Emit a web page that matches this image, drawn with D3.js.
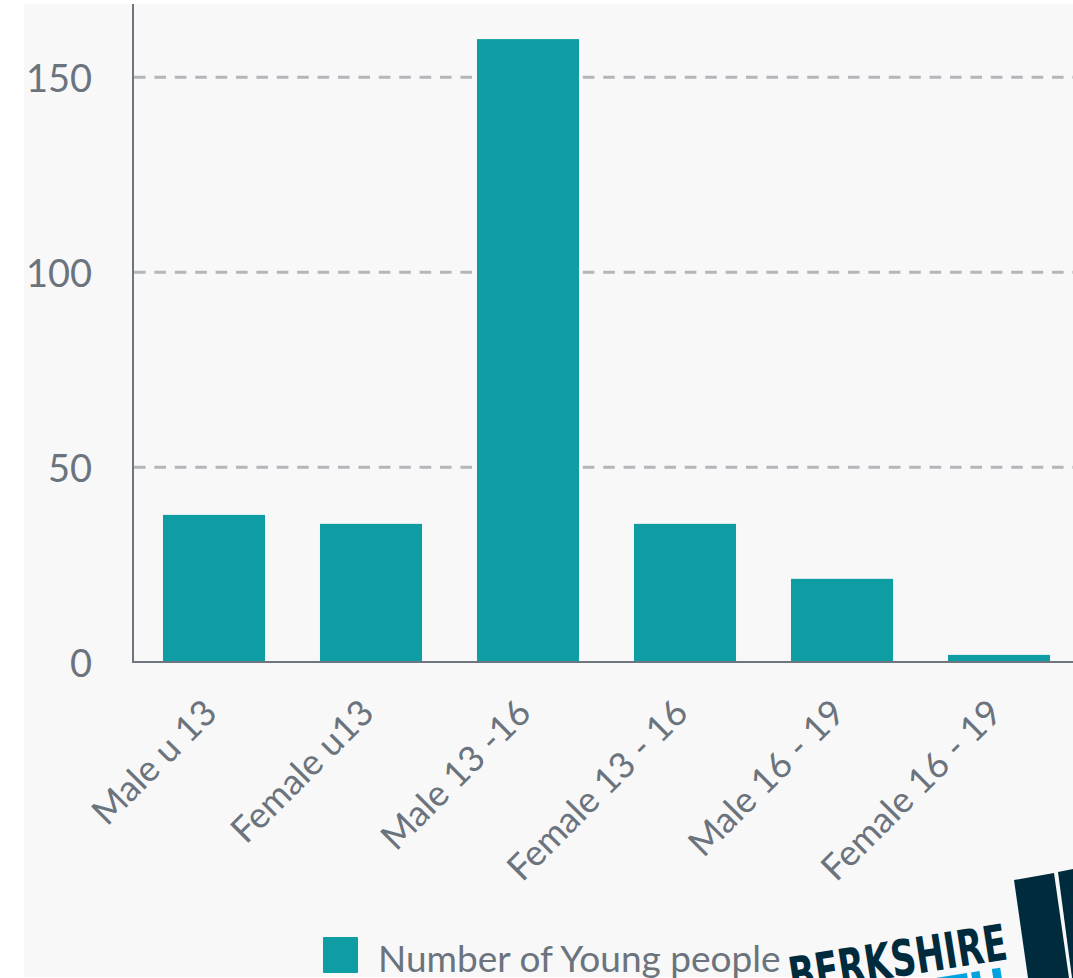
<!DOCTYPE html>
<html>
<head>
<meta charset="utf-8">
<script src="https://cdn.jsdelivr.net/npm/d3@7"></script>
<style>
  html, body { margin: 0; padding: 0; background: #ffffff; }
  svg { display: block; }
</style>
</head>
<body>
<svg id="chart" width="1073" height="978"></svg>
<script>
// ---- data ----
const categories = ["Male u 13", "Female u13", "Male 13 -16", "Female 13 - 16", "Male 16 - 19", "Female 16 - 19"];
const values = [37.8, 35.5, 159.8, 35.5, 21.4, 1.9];
const yTicks = [0, 50, 100, 150];
const seriesName = "Number of Young people";

// ---- styles ----
const barColor = "#0f9da4";
const axisColor = "#6d7580";
const gridColor = "#b3b7bb";
const textColor = "#6b737d";

const svg = d3.select("#chart");

// background panel
svg.append("rect").attr("x", 24).attr("y", 4).attr("width", 1049).attr("height", 973).attr("fill", "#f8f8f8");

const x = d3.scaleBand().domain(categories).range([135.5, 1077.5]).paddingInner(0.35).paddingOuter(0.175);
const y = d3.scaleLinear().domain([0, 168.8]).range([662.3, 4]);

// gridlines
const grid = svg.append("g");
grid.selectAll("line").data(yTicks.filter(d => d > 0)).join("line")
  .attr("x1", 134).attr("x2", 1073)
  .attr("y1", d => y(d)).attr("y2", d => y(d))
  .attr("stroke", gridColor).attr("stroke-width", 3)
  .attr("stroke-dasharray", "11.6,8.8");

// bars
svg.append("g").selectAll("rect").data(values).join("rect")
  .attr("x", (d, i) => x(categories[i]))
  .attr("width", x.bandwidth())
  .attr("y", d => y(d))
  .attr("height", d => y(0) - y(d))
  .attr("fill", barColor);

// y axis
const yAxis = d3.axisLeft(y).tickValues(yTicks).tickSize(0).tickPadding(0).tickFormat(d3.format("d"));
const yg = svg.append("g").attr("transform", "translate(133,0)").call(yAxis);
yg.select(".domain").remove();
yg.selectAll("text")
  .attr("x", -41).attr("dy", null).attr("y", 14.5)
  .attr("fill", textColor)
  .style("font-family", "Lato, sans-serif").style("font-size", "38px");
svg.append("line").attr("x1", 133).attr("x2", 133).attr("y1", 4).attr("y2", 663)
  .attr("stroke", axisColor).attr("stroke-width", 2);

// x axis
const xAxis = d3.axisBottom(x).tickSize(0).tickPadding(0);
const xg = svg.append("g").attr("transform", "translate(0,662)").call(xAxis);
xg.select(".domain").remove();
xg.selectAll("text")
  .attr("y", 0).attr("dy", null)
  .attr("text-anchor", "end")
  .attr("transform", "translate(5,53) rotate(-45)")
  .attr("fill", textColor)
  .style("font-family", "Lato, sans-serif").style("font-size", "36px");
svg.append("line").attr("x1", 132).attr("x2", 1073).attr("y1", 662).attr("y2", 662)
  .attr("stroke", axisColor).attr("stroke-width", 2);

// legend
const lg = svg.append("g");
lg.append("rect").attr("x", 323).attr("y", 937).attr("width", 35).attr("height", 36).attr("rx", 1).attr("fill", barColor);
lg.append("text").attr("x", 378).attr("y", 972).text(seriesName)
  .attr("fill", textColor)
  .style("font-family", "Lato, sans-serif").style("font-size", "37px");

// logo (decorative, partially cropped)
const logo = svg.append("g");
logo.append("polygon").attr("points", "1014,880 1054,873 1069,978 1028,978").attr("fill", "#002b3d");
logo.append("polygon").attr("points", "1058,872 1073,869 1073,978 1072,978").attr("fill", "#002b3d");
logo.append("text").attr("transform", "translate(1009,959) rotate(-9)")
  .attr("text-anchor", "end")
  .attr("textLength", 220).attr("lengthAdjust", "spacingAndGlyphs")
  .attr("fill", "#002b3d")
  .style("font-family", "'Liberation Sans Narrow', 'DejaVu Sans Condensed', sans-serif")
  .style("font-weight", "bold").style("font-size", "50px")
  .text("BERKSHIRE");
logo.append("text").attr("transform", "translate(1010,1003) rotate(-9)")
  .attr("text-anchor", "end")
  .attr("fill", "#00a3e0")
  .style("font-family", "'Liberation Sans Narrow', 'DejaVu Sans Condensed', sans-serif")
  .style("font-weight", "bold").style("font-size", "50px")
  .text("YOUTH");
</script>
</body>
</html>
